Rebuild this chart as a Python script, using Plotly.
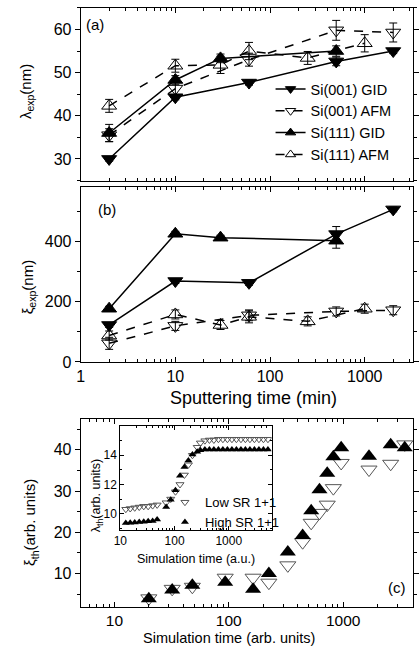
import plotly.graph_objects as go

W, H = 419, 660
FONT = "Liberation Sans, Arial, sans-serif"

# (a), (b): sputtering time (min)
t_001 = [2, 10, 60, 500, 2000]
t_111_gid = [2, 10, 30, 500]
t_111_afm = [2, 10, 30, 60, 250, 1000]

lam_001_gid = [30.0, 44.3, 47.7, 52.6, 55.0]
lam_001_gid_err = [0.5, 0.6, 0.6, 1.0, 0.6]
lam_001_afm = [35.5, 46.3, 53.0, 59.8, 59.3]
lam_001_afm_err = [1.5, 1.5, 1.5, 2.3, 2.2]
lam_111_gid = [36.0, 48.3, 53.3, 55.0]
lam_111_gid_err = [2.0, 1.0, 1.0, 1.2]
lam_111_afm = [42.3, 51.6, 51.8, 55.0, 53.4, 56.8]
lam_111_afm_err = [1.5, 1.5, 2.0, 2.0, 1.5, 2.0]

xi_001_gid = [123, 269, 263, 425, 507]
xi_001_gid_err = [8, 8, 8, 25, 8]
xi_001_afm = [62, 120, 155, 168, 172]
xi_001_afm_err = [20, 15, 18, 15, 15]
xi_111_gid = [177, 426, 413, 403]
xi_111_gid_err = [8, 8, 8, 25]
xi_111_afm = [88, 158, 123, 150, 135, 177]
xi_111_afm_err = [15, 15, 15, 20, 15, 15]

# (c): simulation
t_sim = [20, 32, 48, 93, 163, 224, 328, 442, 525, 620, 725, 820, 960, 1680, 2600, 3450]
xi_th_low = [4.0, 6.3, 6.8, 9.0, 9.0, 7.8, 12.0, 17.6, 22.3, 24.7, 26.7, 30.7, 36.8, 35.2, 36.6, 41.3]
xi_th_high = [3.9, 6.0, 7.2, 7.9, 6.2, 10.0, 15.2, 19.2, 25.2, 30.3, 34.3, 38.3, 40.5, 38.4, 41.2, 40.5]

# inset
t_in = [12.6, 15.2, 18.4, 22.3, 27, 32.6, 39.4, 47.7,
        70, 85, 104, 126, 152, 180, 214, 262, 300,
        363, 440, 532, 645, 780, 945, 1145, 1385, 1680, 2030, 2460, 2980, 3610, 4370, 5290]
lam_th_low = [10.3, 10.35, 10.4, 10.45, 10.5, 10.5, 10.55, 10.6,
              10.75, 11.0, 11.5, 12.0, 12.65, 13.35, 14.0, 14.55, 14.85,
              15.0, 15.05, 15.05, 15.1, 15.1, 15.1, 15.1, 15.1, 15.1, 15.1, 15.1, 15.1, 15.1, 15.1, 15.1]
lam_th_high = [9.35, 9.38, 9.4, 9.42, 9.45, 9.47, 9.5, 9.6,
               10.45, 10.95, 11.6, 12.6, 13.2, 13.65, 14.05, 14.25, 14.35,
               14.4, 14.4, 14.4, 14.4, 14.4, 14.4, 14.4, 14.4, 14.4, 14.4, 14.4, 14.4, 14.4, 14.4, 14.4]


def px(x):
    return x / W


def py(y):
    return 1 - y / H


def err(a):
    return dict(type="data", array=a, color="black", thickness=1, width=4)


fig = go.Figure()

series = [
    ("Si(001) GID", t_001, lam_001_gid, lam_001_gid_err, xi_001_gid, xi_001_gid_err, "triangle-down", "solid"),
    ("Si(001) AFM", t_001, lam_001_afm, lam_001_afm_err, xi_001_afm, xi_001_afm_err, "triangle-down-open", "dash"),
    ("Si(111) GID", t_111_gid, lam_111_gid, lam_111_gid_err, xi_111_gid, xi_111_gid_err, "triangle-up", "solid"),
    ("Si(111) AFM", t_111_afm, lam_111_afm, lam_111_afm_err, xi_111_afm, xi_111_afm_err, "triangle-up-open", "dash"),
]
for name, t, lam, lam_e, xi, xi_e, sym, dash in series:
    mk = dict(symbol=sym, size=13, color="black", line=dict(color="black", width=1))
    ln = dict(color="black", width=1.5, dash=dash)
    fig.add_trace(go.Scatter(x=t, y=lam, error_y=err(lam_e), mode="lines+markers", showlegend=False,
                             marker=mk, line=ln, xaxis="x", yaxis="y"))
    fig.add_trace(go.Scatter(x=t, y=xi, error_y=err(xi_e), mode="lines+markers", showlegend=False,
                             marker=mk, line=ln, xaxis="x2", yaxis="y2"))
    # legend entry with a smaller symbol, as in the original key
    fig.add_trace(go.Scatter(x=[None], y=[None], mode="lines+markers", name=name,
                             marker=dict(symbol=sym, size=9, color="black", line=dict(color="black", width=1)),
                             line=dict(color="black", width=1.5, dash=dash),
                             xaxis="x", yaxis="y", legend="legend"))

fig.add_trace(go.Scatter(x=t_sim, y=xi_th_low, mode="markers", showlegend=False,
                         marker=dict(symbol="triangle-down-open", size=14, color="#555", line=dict(color="#555", width=1)),
                         xaxis="x3", yaxis="y3"))
fig.add_trace(go.Scatter(x=t_sim, y=xi_th_high, mode="markers", showlegend=False,
                         marker=dict(symbol="triangle-up", size=14, color="black"),
                         xaxis="x3", yaxis="y3"))

fig.add_trace(go.Scatter(x=t_in, y=lam_th_low, mode="markers", name="Low SR 1+1",
                         marker=dict(symbol="triangle-down-open", size=7, color="#555", line=dict(color="#555", width=1)),
                         xaxis="x4", yaxis="y4", legend="legend2"))
fig.add_trace(go.Scatter(x=t_in, y=lam_th_high, mode="markers", name="High SR 1+1",
                         marker=dict(symbol="triangle-up", size=7, color="black"),
                         xaxis="x4", yaxis="y4", legend="legend2"))

xdom = [px(76), 1.0]
common = dict(showline=True, linecolor="black", linewidth=1, mirror="ticks", showgrid=False,
              zeroline=False, tickcolor="black", ticklen=5)


def logx(rng, dom, anchor, size, labels=True, tl=5):
    return dict(common, type="log", range=rng, domain=dom, anchor=anchor, ticks="inside",
                tickmode="linear", tick0=0, dtick=1, exponentformat="none", ticklen=tl,
                showticklabels=labels, tickfont=dict(size=size),
                minor=dict(ticks="inside", ticklen=max(2, tl - 2), dtick="D1", tickcolor="black"))


def liny(rng, dom, anchor, vals, mdt, size, ticks="outside", tl=5):
    return dict(common, range=rng, domain=dom, anchor=anchor, ticks=ticks, tickvals=vals,
                ticklen=tl, tickfont=dict(size=size),
                minor=dict(ticks=ticks, ticklen=max(2, tl - 2), dtick=mdt, tickcolor="black"))


fig.update_layout(
    width=W, height=H,
    margin=dict(l=0, r=0, t=0, b=0),
    paper_bgcolor="white", plot_bgcolor="white",
    font=dict(family=FONT, color="black", size=15),
    xaxis=logx([0, 3.51], xdom, "y", 17, labels=False),
    yaxis=liny([25, 65], [py(183), py(8)], "x", [30, 40, 50, 60], 5, 16),
    xaxis2=logx([0, 3.51], xdom, "y2", 16),
    yaxis2=liny([0, 580], [py(367), py(190)], "x2", [0, 200, 400], 100, 16),
    xaxis3=logx([0.705, 3.61], xdom, "y3", 15.5),
    yaxis3=liny([2, 47.4], [py(615), py(425)], "x3", [10, 20, 30, 40], 5, 16),
    xaxis4=logx([1.0, 3.79], [px(117), px(273)], "y4", 12, tl=4),
    yaxis4=liny([8.9, 16], [py(537), py(432)], "x4", [10, 12, 14], 1, 12, ticks="inside", tl=4),
    legend=dict(x=px(272), y=py(74), xanchor="left", yanchor="top", bgcolor="rgba(0,0,0,0)",
                font=dict(size=14.5), tracegroupgap=0),
    legend2=dict(x=px(163), y=py(494), xanchor="left", yanchor="top", bgcolor="rgba(0,0,0,0)",
                 font=dict(size=13), tracegroupgap=0, itemwidth=30),
)

notes = [
    ("(a)", 91, 25, 15, 0),
    ("(b)", 103, 212, 15, 0),
    ("(c)", 402, 596, 15, 0),
    ("λ<sub>exp</sub>(nm)", 20, 93, 15, -90),
    ("ξ<sub>exp</sub>(nm)", 22, 291, 15, -90),
    ("ξ<sub>th</sub>(arb. units)", 25, 530, 15, -90),
    ("λ<sub>th</sub>(arb. units)", 93, 503, 12.5, -90),
    ("Sputtering time (min)", 254, 404, 18, 0),
    ("Simulation time (arb. units)", 229, 647, 14.5, 0),
    ("Simulation time (a.u.)", 195, 567, 12.5, 0),
]
for text, x, y, size, ang in notes:
    fig.add_annotation(text=text, x=px(x), y=py(y), xref="paper", yref="paper",
                       showarrow=False, textangle=ang, font=dict(size=size),
                       xanchor="center", yanchor="middle")

# drop the page's default body margin so the figure sits at the window's top-left corner
fig.write_html("out.html", config={"displayModeBar": False},
               post_script="document.body.style.margin='0';")
